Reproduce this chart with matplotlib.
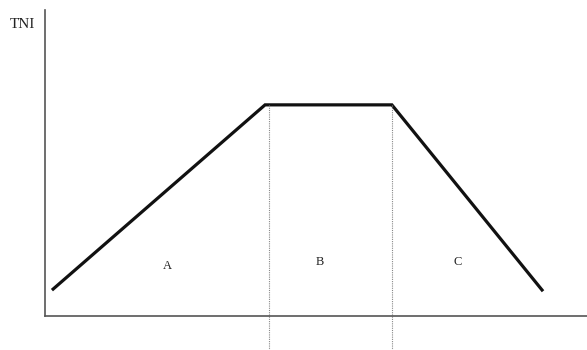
import matplotlib
matplotlib.use("Agg")
import matplotlib.pyplot as plt

# trapezoid profile of TNI (arbitrary units, axis 0-100)
x_pts = [1.5, 40.6, 64.0, 91.7]
y_pts = [8.8, 69.0, 69.0, 8.5]

# phase boundaries and labels
bounds = [41.3, 64.0]
phase_labels = ["A", "B", "C"]
label_x = [22.6, 50.7, 76.2]
label_y = [16.3, 17.6, 17.6]

plt.rcParams["font.family"] = ["Liberation Serif", "DejaVu Serif"]

fig = plt.figure(figsize=(5.87, 3.5), dpi=100)
ax = fig.add_axes([45 / 587, 34 / 350, 542 / 587, 306 / 350])
ax.set_xlim(0, 100)
ax.set_ylim(0, 100)

ax.plot(x_pts, y_pts, color="#111111", lw=2.3, solid_joinstyle="miter")

for b in bounds:
    ax.plot([b, b], [69.0, -11.2], color="#888888", lw=0.8,
            linestyle=(0, (1, 1)), clip_on=False)

for lab, lx, ly in zip(phase_labels, label_x, label_y):
    ax.text(lx, ly, lab, ha="center", va="center", fontsize=9, color="#222222")

for side in ["top", "right"]:
    ax.spines[side].set_visible(False)
for side in ["left", "bottom"]:
    ax.spines[side].set_color("#555555")
    ax.spines[side].set_linewidth(1.2)
ax.set_xticks([])
ax.set_yticks([])

fig.text(22 / 587, 1 - 25 / 350, "TNI", ha="center", va="center",
         fontsize=11, color="#222222")

fig.savefig("out.png", dpi=100)
